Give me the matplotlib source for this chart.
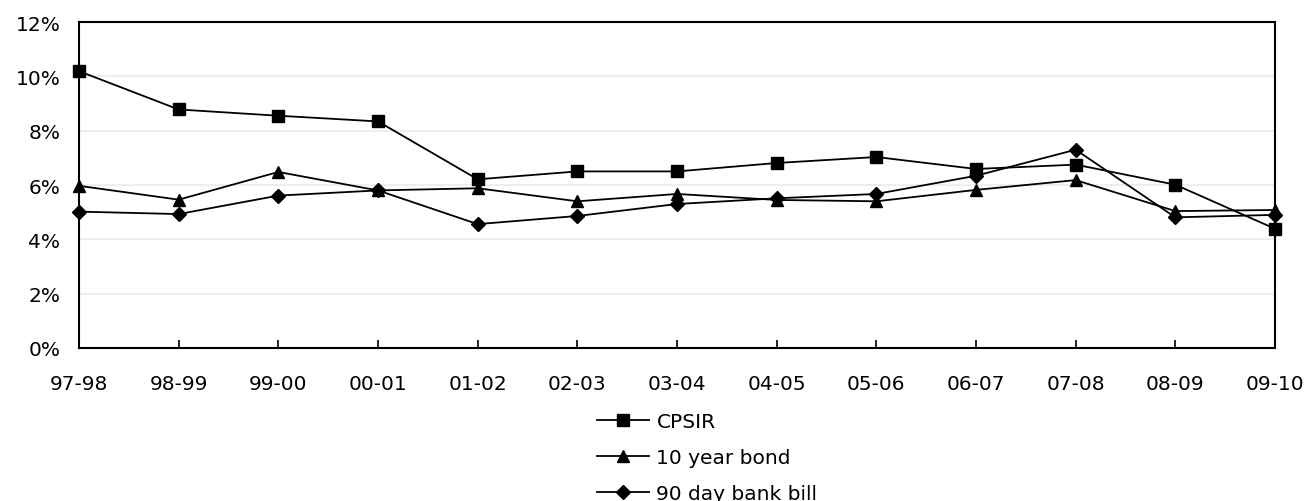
import matplotlib
matplotlib.use("Agg")
import matplotlib.pyplot as plt
from matplotlib.ticker import FuncFormatter, MultipleLocator

periods = ["97-98", "98-99", "99-00", "00-01", "01-02", "02-03", "03-04",
           "04-05", "05-06", "06-07", "07-08", "08-09", "09-10"]
cpsir = [10.19, 8.78, 8.55, 8.34, 6.21, 6.50, 6.50, 6.81, 7.03, 6.59, 6.75, 6.01, 4.39]
bond_10y = [5.97, 5.46, 6.48, 5.80, 5.88, 5.40, 5.67, 5.45, 5.40, 5.82, 6.18, 5.04, 5.08]
bill_90d = [5.02, 4.93, 5.61, 5.80, 4.56, 4.86, 5.30, 5.51, 5.67, 6.34, 7.30, 4.81, 4.90]

plt.rcParams["font.family"] = ["DejaVu Sans"]

fig = plt.figure(figsize=(13.10, 5.02), dpi=100)
ax = fig.add_axes([79 / 1310, 1 - 349 / 502, (1275 - 79) / 1310, (349 - 23) / 502])

x = list(range(len(periods)))
style = dict(color="black", linewidth=1.3, markersize=8, clip_on=False, zorder=3)
ax.plot(x, cpsir, marker="s", label="CPSIR", **style)
ax.plot(x, bond_10y, marker="^", label="10 year bond", **{**style, "markersize": 9})
ax.plot(x, bill_90d, marker="D", label="90 day bank bill", **{**style, "markersize": 7})

ax.set_xlim(0, len(periods) - 1)
ax.set_ylim(0, 12)
ax.set_xticks(x)
ax.set_xticklabels(periods)
ax.yaxis.set_major_locator(MultipleLocator(2))
ax.yaxis.set_major_formatter(FuncFormatter(lambda v, _: f"{v:.0f}%"))

ax.grid(axis="y", color="#eeeeee", linewidth=1.5, zorder=0)
ax.set_axisbelow(True)
for s in ax.spines.values():
    s.set_linewidth(1.5)
    s.set_color("black")

ax.tick_params(axis="x", direction="in", length=6, width=1.2, pad=19, labelsize=14.5)
ax.tick_params(axis="y", length=0, pad=13.5, labelsize=14.5)

fig.legend(loc="upper left", bbox_to_anchor=(597 / 1310, 1 - 413 / 502),
           frameon=False, fontsize=14.5, handlelength=2.6, handletextpad=0.35,
           labelspacing=0.85, borderaxespad=0, borderpad=0)

fig.savefig("out.png", dpi=100)
